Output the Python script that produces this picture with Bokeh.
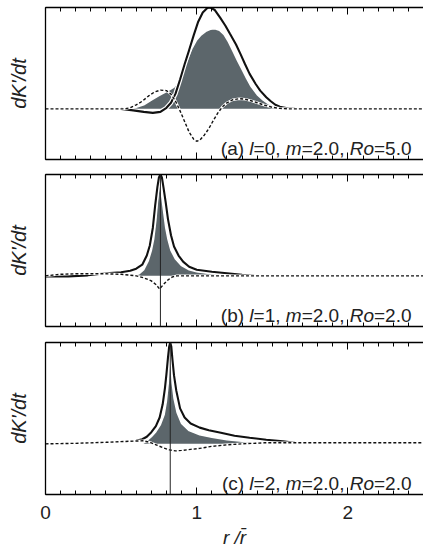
from bokeh.plotting import figure
from bokeh.layouts import column
from bokeh.models import LinearAxis, SingleIntervalTicker, FixedTicker, Label, Span, Range1d
from bokeh.embed import file_html
from bokeh.resources import INLINE

# ---------------- data ----------------
# (a) l=0, m=2.0, Ro=5.0
a_total_x = [0.50, 0.58, 0.65, 0.71, 0.76, 0.80, 0.83, 0.86, 0.89, 0.92, 0.95, 0.98, 1.01, 1.04,
             1.07, 1.09, 1.12, 1.155, 1.19, 1.22, 1.26, 1.29, 1.32, 1.35, 1.39, 1.42, 1.46, 1.49,
             1.52, 1.55, 1.60, 1.65]
a_total_y = [0.0, -0.03, -0.06, -0.08, -0.06, 0.02, 0.12, 0.30, 0.58, 0.88, 1.16, 1.45, 1.72, 1.90,
             1.99, 2.00, 1.95, 1.80, 1.64, 1.48, 1.27, 1.08, 0.88, 0.69, 0.49, 0.36, 0.23, 0.15,
             0.08, 0.04, 0.01, 0.0]
a_shade_x = [0.55, 0.60, 0.65, 0.70, 0.75, 0.80, 0.85, 0.88, 0.91, 0.94, 0.97, 1.00, 1.03, 1.06,
             1.09, 1.12, 1.15, 1.18, 1.21, 1.24, 1.27, 1.30, 1.33, 1.36, 1.40, 1.44, 1.48, 1.52, 1.56]
a_shade_y = [0.0, 0.03, 0.08, 0.17, 0.26, 0.34, 0.43, 0.55, 0.75, 0.98, 1.20, 1.36, 1.46, 1.53,
             1.57, 1.58, 1.55, 1.47, 1.32, 1.14, 0.95, 0.78, 0.60, 0.44, 0.28, 0.17, 0.09, 0.04, 0.0]
a_dash_x = [0.0, 0.52, 0.56, 0.60, 0.64, 0.68, 0.72, 0.76, 0.80, 0.83, 0.86, 0.89, 0.92, 0.95,
            0.98, 1.00, 1.02, 1.05, 1.08, 1.11, 1.14, 1.17, 1.20, 1.24, 1.28, 1.32, 1.36, 1.40,
            1.45, 1.50, 1.55, 1.60, 2.5]
a_dash_y = [0.0, 0.0, 0.02, 0.08, 0.15, 0.25, 0.33, 0.37, 0.36, 0.29, 0.15, -0.04, -0.25, -0.46,
            -0.60, -0.64, -0.62, -0.52, -0.39, -0.23, -0.08, 0.04, 0.12, 0.18, 0.20, 0.19, 0.16, 0.12,
            0.07, 0.03, 0.01, 0.0, 0.0]

# (b) l=1, m=2.0, Ro=2.0
b_total_x = [0.0, 0.15, 0.28, 0.4, 0.5, 0.56, 0.6, 0.64, 0.67, 0.69, 0.71, 0.725, 0.74, 0.75, 0.76,
             0.77, 0.78, 0.795, 0.81, 0.83, 0.85, 0.88, 0.91, 0.95, 1.0, 1.1, 1.2, 1.3, 1.38]
b_total_y = [-0.01, -0.01, 0.01, 0.05, 0.07, 0.10, 0.14, 0.22, 0.40, 0.60, 0.95, 1.38, 1.75, 1.94,
             2.00, 1.94, 1.75, 1.45, 1.12, 0.80, 0.58, 0.40, 0.28, 0.18, 0.12, 0.08, 0.05, 0.02, 0.0]
b_shade_x = [0.58, 0.62, 0.65, 0.68, 0.70, 0.715, 0.73, 0.74, 0.75, 0.755, 0.76, 0.77, 0.78, 0.795,
             0.81, 0.83, 0.86, 0.90, 0.95, 1.0, 1.1, 1.2, 1.35]
b_shade_y = [0.0, 0.04, 0.12, 0.30, 0.50, 0.72, 1.10, 1.45, 1.75, 1.82, 1.78, 1.55, 1.30, 0.95,
             0.72, 0.50, 0.33, 0.20, 0.12, 0.08, 0.04, 0.02, 0.0]
b_dash_x = [0.0, 0.1, 0.2, 0.3, 0.4, 0.5, 0.6, 0.65, 0.7, 0.73, 0.755, 0.78, 0.81, 0.84, 0.87,
            0.9, 1.0, 1.2, 2.5]
b_dash_y = [0.0, 0.03, 0.04, 0.04, 0.04, 0.03, 0.0, -0.04, -0.10, -0.17, -0.26, -0.17, -0.08,
            -0.02, 0.0, 0.0, 0.0, 0.0, 0.0]
b_res = 0.76

# (c) l=2, m=2.0, Ro=2.0
c_total_x = [0.60, 0.64, 0.67, 0.70, 0.73, 0.755, 0.775, 0.79, 0.80, 0.81, 0.818, 0.825, 0.832,
             0.84, 0.85, 0.865, 0.89, 0.92, 0.96, 1.02, 1.08, 1.16, 1.25, 1.35, 1.46, 1.57, 1.65]
c_total_y = [0.06, 0.09, 0.14, 0.23, 0.35, 0.52, 0.78, 1.10, 1.38, 1.70, 1.92, 2.00, 1.92,
             1.65, 1.35, 1.05, 0.70, 0.52, 0.40, 0.32, 0.27, 0.22, 0.16, 0.12, 0.08, 0.05, 0.02]
c_shade_x = [0.64, 0.67, 0.70, 0.73, 0.76, 0.785, 0.80, 0.812, 0.82, 0.825, 0.83, 0.838, 0.85,
             0.87, 0.90, 0.95, 1.02, 1.1, 1.2, 1.3, 1.4, 1.5]
c_shade_y = [0.0, 0.06, 0.14, 0.24, 0.38, 0.58, 0.85, 1.20, 1.60, 1.85, 1.60, 1.20, 0.90,
             0.62, 0.40, 0.26, 0.18, 0.13, 0.08, 0.05, 0.02, 0.0]
c_dash_x = [0.0, 0.2, 0.4, 0.55, 0.65, 0.70, 0.74, 0.78, 0.82, 0.86, 0.90, 0.96, 1.02, 1.1,
            1.2, 1.3, 1.45, 2.5]
c_dash_y = [0.0, 0.01, 0.03, 0.05, 0.06, 0.02, -0.03, -0.08, -0.12, -0.14, -0.13, -0.11, -0.09,
            -0.05, -0.02, 0.0, 0.02, 0.02]
c_res = 0.825

captions = [
    [("(a) ", False), ("l", True), ("=0, ", False), ("m", True), ("=2.0, ", False), ("Ro", True), ("=5.0", False)],
    [("(b) ", False), ("l", True), ("=1, ", False), ("m", True), ("=2.0, ", False), ("Ro", True), ("=2.0", False)],
    [("(c) ", False), ("l", True), ("=2, ", False), ("m", True), ("=2.0, ", False), ("Ro", True), ("=2.0", False)],
]
x_tick_interval = 1
y_label = "dK'/dt"
x_label = "r /r\u0304"

# ---------------- styling ----------------
FONT = "Liberation Sans"
SHADE = "#5c666b"
INK = "#222222"
CAP_SIZE = 19
# advance widths (1/1000 em) for the caption glyphs
ADV = {"(": 333, ")": 333, " ": 278, "a": 556, "b": 556, "c": 500, "l": 222, "=": 584,
       ",": 278, ".": 278, "m": 833, "R": 722, "o": 556}
for d in "0123456789":
    ADV[d] = 556


def text_width(s):
    return sum(ADV.get(ch, 556) for ch in s) * CAP_SIZE / 1000.0


def make_panel(total_x, total_y, shade_x, shade_y, dash_x, dash_y, caption, res=None,
               top=7, bottom=8, last=False):
    p = figure(frame_width=378, frame_height=152, x_range=Range1d(0, 2.5), y_range=Range1d(-1, 2),
               output_backend="svg", toolbar_location=None,
               x_axis_location=None, y_axis_location=None,
               min_border_left=45, min_border_right=0, min_border_top=top,
               min_border_bottom=bottom)
    p.outline_line_color = None
    p.background_fill_color = "white"
    p.border_fill_color = "white"
    p.xgrid.grid_line_color = None
    p.ygrid.grid_line_color = None

    for loc in ("above", "below"):
        ax = LinearAxis(ticker=SingleIntervalTicker(interval=x_tick_interval, num_minor_ticks=10),
                        major_tick_in=7, major_tick_out=0, minor_tick_in=4, minor_tick_out=0,
                        axis_line_width=1.3, major_tick_line_width=1, minor_tick_line_width=1)
        if loc == "below" and last:
            ax.major_label_text_font = FONT
            ax.major_label_text_font_size = "19px"
            ax.major_label_text_color = INK
            ax.major_label_standoff = 11
            ax.axis_label = x_label
            ax.axis_label_text_font = FONT
            ax.axis_label_text_font_size = "19px"
            ax.axis_label_text_font_style = "italic"
            ax.axis_label_text_color = INK
            ax.axis_label_standoff = 5
        else:
            # tick marks only
            ax.major_label_text_font_size = "1px"
            ax.major_label_text_color = None
            ax.major_label_standoff = 0
        p.add_layout(ax, loc)

    yax = LinearAxis(ticker=FixedTicker(ticks=[]), axis_line_width=1.3,
                     major_tick_in=0, major_tick_out=0, minor_tick_in=0, minor_tick_out=0,
                     major_label_standoff=0,
                     axis_label=y_label, axis_label_text_font=FONT,
                     axis_label_text_font_size="20px", axis_label_text_font_style="italic",
                     axis_label_text_color=INK, axis_label_standoff=16)
    p.add_layout(yax, "left")

    # shaded contribution with a white rim
    p.varea(x=shade_x, y1=[0] * len(shade_x), y2=shade_y, fill_color=SHADE)
    p.line(shade_x, shade_y, line_color="white", line_width=1.5)

    if res is not None:
        p.add_layout(Span(location=res, dimension="height", line_color=INK, line_width=1))

    # total, black with a white halo
    p.line(total_x, total_y, line_color="white", line_width=4.5)
    p.line(total_x, total_y, line_color="#111111", line_width=2.1)

    # dashed curve over a thin white halo
    p.line(dash_x, dash_y, line_color="white", line_width=2.5)
    p.line(dash_x, dash_y, line_color="#111111", line_width=1.4, line_dash="3 2")

    # caption with italic symbols, right aligned near the lower right corner
    total_w = sum(text_width(s) for s, _ in caption)
    off = -12 - total_w
    for s, ital in caption:
        p.add_layout(Label(x=2.5, y=-1, x_offset=off, y_offset=11, text=s,
                           text_font=FONT, text_font_size=f"{CAP_SIZE}px",
                           text_font_style="italic" if ital else "normal",
                           text_color=INK, text_align="left",
                           text_baseline="alphabetic"))
        off += text_width(s)
    return p


pa = make_panel(a_total_x, a_total_y, a_shade_x, a_shade_y, a_dash_x, a_dash_y, captions[0],
                top=7, bottom=8)
pb = make_panel(b_total_x, b_total_y, b_shade_x, b_shade_y, b_dash_x, b_dash_y, captions[1],
                res=b_res, top=7, bottom=8)
pc = make_panel(c_total_x, c_total_y, c_shade_x, c_shade_y, c_dash_x, c_dash_y, captions[2],
                res=c_res, top=8, bottom=50, last=True)

layout = column(pa, pb, pc)
open("out.html", "w").write(file_html(layout, INLINE))
